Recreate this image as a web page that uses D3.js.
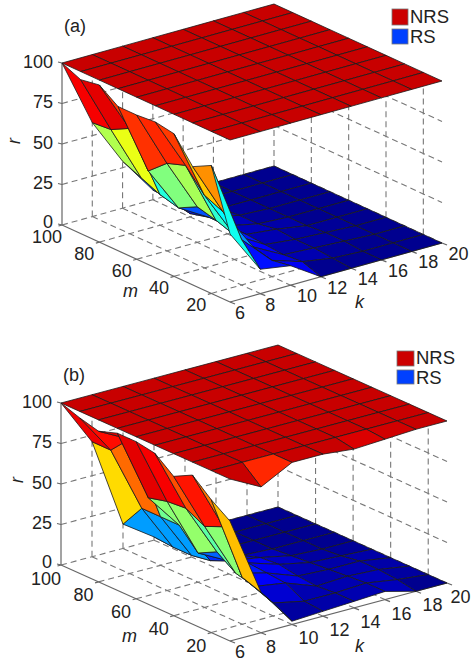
<!DOCTYPE html>
<html>
<head>
<meta charset="utf-8">
<script src="https://cdn.jsdelivr.net/npm/d3@7"></script>
<style>
  body { margin: 0; background: #fff; }
  text { font-family: "Liberation Sans", Arial, sans-serif; fill: #222; }
</style>
</head>
<body>
<svg id="chart" width="471" height="662"></svg>
<script>
const kValues = [6, 8, 10, 12, 14, 16, 18, 20];
const mValues = [100, 90, 80, 70, 60, 50, 40, 30, 20, 10];
const kTicks = [6, 8, 10, 12, 14, 16, 18, 20];
const mTicks = [20, 40, 60, 80, 100];
const rTicks = [0, 25, 50, 75, 100];

// one row per k, one value per m (100 down to 10)
const rsA = [
  [100, 95, 97, 89, 89, 90, 88, 73, 79, 42],
  [58, 59, 65, 44, 54, 58, 45, 40, 28, 15],
  [29, 24, 19, 16, 22, 19, 15, 13, 10, 12],
  [6, 5, 2, 5, 5, 5, 4, 3, 4, 0],
  [0, 0, 0, 1, 1, 3, 2, 2, 1, 0],
  [0, 0, 0, 0, 0, 0, 1, 1, 0, 0],
  [0, 0, 0, 0, 0, 0, 0, 0, 0, 0],
  [0, 0, 0, 0, 0, 0, 0, 0, 0, 0]
];
const nrsA = [
  [100, 100, 100, 100, 100, 100, 100, 100, 100, 100],
  [100, 100, 100, 100, 100, 100, 100, 100, 100, 100],
  [100, 100, 100, 100, 100, 100, 100, 100, 100, 100],
  [100, 100, 100, 100, 100, 100, 100, 100, 100, 100],
  [100, 100, 100, 100, 100, 100, 100, 100, 100, 100],
  [100, 100, 100, 100, 100, 100, 100, 100, 100, 100],
  [100, 100, 100, 100, 100, 100, 100, 100, 100, 100],
  [100, 100, 100, 100, 100, 100, 100, 100, 100, 100]
];
const rsB = [
  [100, 96, 93, 97, 97, 95, 86, 92, 82, 74],
  [71, 71, 83, 52, 55, 56, 50, 55, 29, 25],
  [15, 30, 30, 30, 18, 24, 16, 13, 8, 2],
  [2, 1, 1, 3, 8, 12, 11, 10, 4, 3],
  [0, 0, 0, 1, 5, 6, 4, 3, 4, 4],
  [0, 0, 0, 0, 1, 2, 3, 4, 5, 5],
  [0, 0, 0, 0, 0, 1, 3, 3, 2, 0],
  [0, 0, 0, 0, 0, 0, 0, 0, 0, 0]
];
const nrsB = [
  [100, 100, 100, 100, 100, 100, 100, 100, 100, 100],
  [100, 100, 100, 100, 100, 100, 100, 100, 100, 90],
  [100, 100, 100, 100, 100, 100, 100, 100, 100, 100],
  [100, 100, 100, 100, 100, 100, 100, 100, 100, 100],
  [100, 100, 100, 100, 100, 100, 100, 100, 100, 98],
  [100, 100, 100, 100, 100, 100, 100, 100, 100, 99],
  [100, 100, 100, 100, 100, 100, 100, 100, 100, 100],
  [100, 100, 100, 100, 100, 100, 100, 100, 100, 100]
];

// matlab jet stops, colour limit a bit over 100 so the plane comes out #c80000
const jetColor = d3.scaleLinear()
  .domain([0, 0.125, 0.375, 0.625, 0.875, 1].map(d => d * 107.6))
  .range(["#00008f", "#0000ff", "#00ffff", "#ffff00", "#ff0000", "#800000"]);

const svg = d3.select("#chart");

function drawPanel(cfg) {
  const g = svg.append("g");

  // oblique projection, three axes as pixel offsets
  const kx = d3.scaleLinear().domain([6, 20]).range([0, cfg.kVec[0]]);
  const ky = d3.scaleLinear().domain([6, 20]).range([0, cfg.kVec[1]]);
  const mx = d3.scaleLinear().domain([100, 10]).range([0, cfg.mVec[0]]);
  const my = d3.scaleLinear().domain([100, 10]).range([0, cfg.mVec[1]]);
  const rY = d3.scaleLinear().domain([0, 100]).range([0, -cfg.rLen]);
  const project = (k, m, r) => [
    cfg.origin[0] + kx(k) + mx(m),
    cfg.origin[1] + ky(k) + my(m) + rY(r)
  ];

  const seg = (a, b, dashed) => g.append("line")
    .attr("x1", a[0]).attr("y1", a[1]).attr("x2", b[0]).attr("y2", b[1])
    .attr("stroke", dashed ? "#777" : "#666")
    .attr("stroke-width", dashed ? 1.1 : 1.2)
    .attr("stroke-dasharray", dashed ? "6,4" : null);

  // back walls and floor
  kTicks.forEach(k => {
    if (k > 6) {
      seg(project(k, 100, 0), project(k, 100, 100), true);
      seg(project(k, 100, 0), project(k, 10, 0), true);
    }
  });
  mTicks.forEach(m => {
    if (m < 100) seg(project(20, m, 0), project(20, m, 100), true);
    seg(project(6, m, 0), project(20, m, 0), true);
  });
  rTicks.forEach(r => {
    if (r > 0 && r < 100) {
      seg(project(6, 100, r), project(20, 100, r), true);
      seg(project(20, 100, r), project(20, 10, r), true);
    }
  });

  // axis lines
  seg(project(6, 100, 0), project(6, 100, 100), false);
  seg(project(6, 100, 0), project(6, 10, 0), false);
  seg(project(6, 10, 0), project(20, 10, 0), false);

  // ticks
  rTicks.forEach(r => {
    const p = project(6, 100, r);
    seg(p, [p[0] - 4, p[1] - 1], false);
    g.append("text").attr("x", p[0] - 9).attr("y", p[1] + (r === 0 ? 3 : 4.5))
      .attr("text-anchor", "end").attr("font-size", cfg.fontSize).text(r);
  });
  mTicks.forEach(m => {
    const p = project(6, m, 0);
    seg(p, [p[0] - 3.5, p[1] + 1], false);
    g.append("text").attr("x", p[0] - 15).attr("y", p[1] + cfg.mDy)
      .attr("text-anchor", "middle").attr("font-size", cfg.fontSize).text(m);
  });
  kTicks.forEach(k => {
    const p = project(k, 10, 0);
    seg(p, [p[0] + 5, p[1] + 2], false);
    // labels kept just inside the page edge
    g.append("text")
      .attr("x", Math.min(p[0] + (k < 10 ? 10 : 16.5), 460.5))
      .attr("y", Math.min(p[1] + cfg.kDy, 658))
      .attr("text-anchor", "middle").attr("font-size", cfg.fontSize).text(k);
  });

  // axis names
  const italic = (x, y, t, rot) => g.append("text")
    .attr("transform", `translate(${x},${y})` + (rot ? ` rotate(${rot})` : ""))
    .attr("font-size", cfg.fontSize).attr("font-style", "italic").text(t);
  italic(cfg.rLabel[0], cfg.rLabel[1], "r", -90);
  italic(cfg.mLabel[0], cfg.mLabel[1], "m");
  italic(cfg.kLabel[0], cfg.kLabel[1], "k");
  g.append("text").attr("x", cfg.tag[0]).attr("y", cfg.tag[1])
    .attr("font-size", cfg.fontSize).text(cfg.tagText);

  // surfaces, far cells first; each cell takes the colour of its low-k, low-m corner
  const drawSurface = (values, cls) => {
    const cells = [];
    for (let a = kValues.length - 2; a >= 0; a--) {
      for (let b = 0; b < mValues.length - 1; b++) cells.push([a, b]);
    }
    g.selectAll("path." + cls).data(cells).enter().append("path")
      .attr("class", cls)
      .attr("d", ([a, b]) => d3.line()([
        project(kValues[a], mValues[b], values[a][b]),
        project(kValues[a + 1], mValues[b], values[a + 1][b]),
        project(kValues[a + 1], mValues[b + 1], values[a + 1][b + 1]),
        project(kValues[a], mValues[b + 1], values[a][b + 1])
      ]) + "Z")
      .attr("fill", ([a, b]) => jetColor(values[a][b + 1]))
      .attr("stroke", "#1a1a1a")
      .attr("stroke-width", 0.8)
      .attr("stroke-linejoin", "round");
  };
  drawSurface(cfg.rs, "rs");
  drawSurface(cfg.nrs, "nrs");

  // legend
  cfg.legend.forEach((row, i) => {
    g.append("rect").attr("x", row.x).attr("y", row.y)
      .attr("width", row.w).attr("height", row.h)
      .attr("fill", i === 0 ? "#cc0000" : "#0040ff").attr("stroke", "#777").attr("stroke-width", 0.8);
    g.append("text").attr("x", row.x + row.w + 2).attr("y", row.textY)
      .attr("font-size", 18.5).text(i === 0 ? "NRS" : "RS");
  });
}

drawPanel({
  origin: [62, 225], kVec: [212, -59], mVec: [168, 77], rLen: 162,
  rs: rsA, nrs: nrsA, fontSize: 18, tag: [64, 32], tagText: "(a)",
  mDy: 17.5, kDy: 17,
  rLabel: [20, 144], mLabel: [123, 297], kLabel: [355, 308],
  legend: [{ x: 392, y: 9, w: 16, h: 16, textY: 23 }, { x: 392, y: 29, w: 16, h: 15, textY: 43 }]
});
drawPanel({
  origin: [61, 565], kVec: [217, -58], mVec: [169, 76], rLen: 162,
  rs: rsB, nrs: nrsB, fontSize: 18, tag: [63, 381], tagText: "(b)",
  mDy: 19.5, kDy: 20,
  rLabel: [23, 483], mLabel: [122, 642], kLabel: [355, 652],
  legend: [{ x: 397, y: 351, w: 17, h: 15, textY: 364 }, { x: 397, y: 370, w: 17, h: 14, textY: 384 }]
});
</script>
</body>
</html>
